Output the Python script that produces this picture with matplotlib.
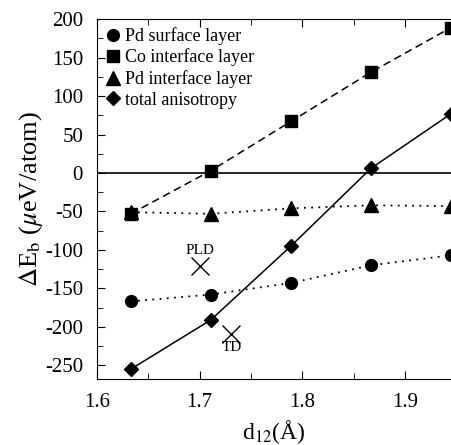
import matplotlib
matplotlib.use("Agg")
import matplotlib.pyplot as plt
from matplotlib.lines import Line2D
from matplotlib.ticker import MultipleLocator

plt.rcParams['font.family'] = ['Liberation Serif', 'DejaVu Serif']
plt.rcParams['mathtext.fontset'] = 'stix'
plt.rcParams['axes.unicode_minus'] = False

d12 = [1.633, 1.711, 1.789, 1.867, 1.945]
pd_surface = [-167, -158, -143, -120, -107]
co_interface = [-53, 3, 67, 131, 189]
pd_interface = [-51, -53, -46, -42, -43]
total = [-255, -191, -95, 6, 77]
labels = ["Pd surface layer", "Co interface layer", "Pd interface layer", "total anisotropy"]
exp_x = [1.700, 1.731]
exp_y = [-121, -209]
exp_labels = ["PLD", "TD"]

fig = plt.figure(figsize=(4.51, 4.45), dpi=100)
ax = fig.add_axes([0.215, 0.148, 0.785, 0.809])

ms = 8.5
ax.axhline(0, color='black', lw=1.2)
ax.plot(d12, pd_surface, ls=(0, (1, 3)), color='black', lw=1.3, marker='o', ms=ms, clip_on=False)
ax.plot(d12, co_interface, ls=(0, (5, 3)), color='black', lw=1.1, marker='s', ms=ms, clip_on=False)
ax.plot(d12, pd_interface, ls=(0, (1, 3)), color='black', lw=1.3, marker='^', ms=ms + 1, clip_on=False)
ax.plot(d12, total, ls='-', color='black', lw=1.1, marker='D', ms=ms - 1, clip_on=False)
ax.plot(exp_x, exp_y, ls='none', marker='x', color='black', ms=13, mew=1.0)
ax.text(exp_x[0], exp_y[0] + 12, exp_labels[0], ha='center', va='bottom', fontsize=11)
ax.text(exp_x[1], exp_y[1] - 10, exp_labels[1], ha='center', va='top', fontsize=11)

handles = [Line2D([], [], ls='none', marker=m, color='black', ms=s)
           for m, s in zip(['o', 's', '^', 'D'], [ms, ms, ms + 1, ms - 1])]
ax.legend(handles, labels, loc='upper left', frameon=False, fontsize=13,
          handletextpad=0.05, borderaxespad=0.0, labelspacing=0.2, handlelength=1.2,
          bbox_to_anchor=(-0.005, 0.998))

ax.set_xlim(1.6, 1.945)
ax.set_ylim(-268, 200)
ax.xaxis.set_major_locator(MultipleLocator(0.1))
ax.xaxis.set_minor_locator(MultipleLocator(0.05))
ax.yaxis.set_major_locator(MultipleLocator(50))
ax.yaxis.set_minor_locator(MultipleLocator(25))
ax.tick_params(which='both', direction='in', top=True, right=False, labelsize=15)
ax.tick_params(which='major', length=6)
ax.tick_params(which='minor', length=4)
ax.tick_params(axis='x', pad=10)
ax.tick_params(axis='y', pad=10)
ax.spines['right'].set_visible(False)

ax.set_xlabel(r"d$_{12}$(Å)", fontsize=17, labelpad=4)
ax.set_ylabel(r"$\Delta$E$_{\rm b}$ ($\mu$eV/atom)", fontsize=19, labelpad=0)

fig.savefig("out.png", dpi=100)
